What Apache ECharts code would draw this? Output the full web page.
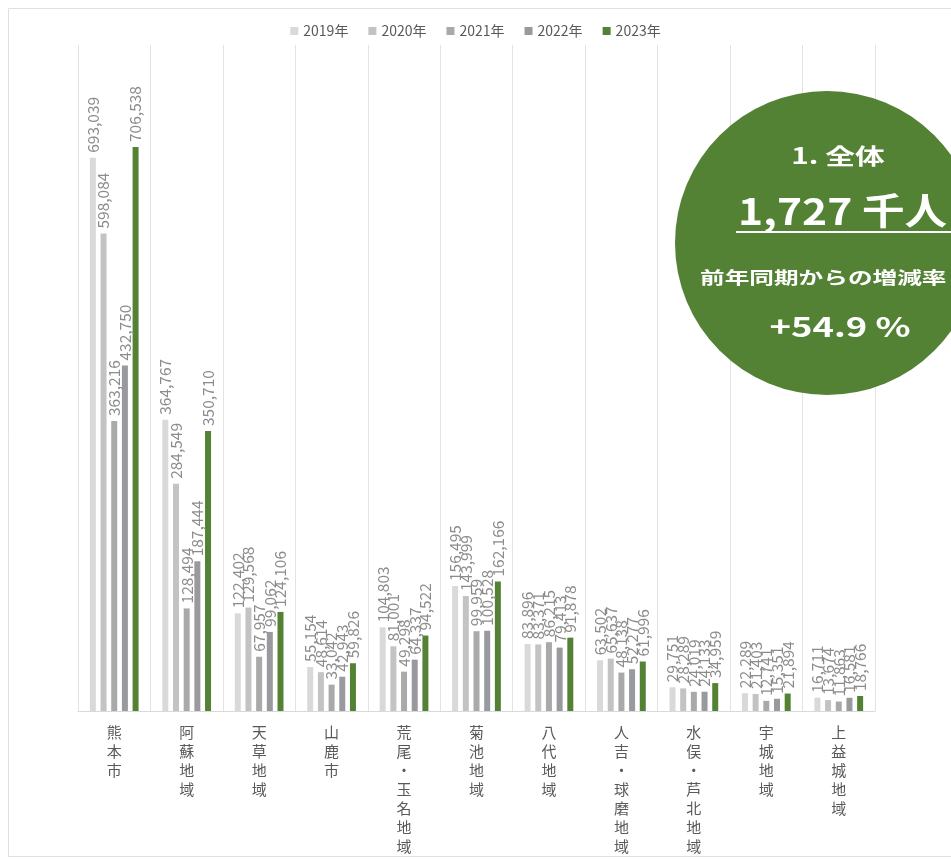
<!DOCTYPE html>
<html><head><meta charset="utf-8">
<script src="https://cdn.jsdelivr.net/npm/echarts@6/dist/echarts.min.js"></script>
<style>html,body{margin:0;padding:0;background:#fff}#c{width:951px;height:859px}</style>
</head><body><div id="c"></div>
<script>
const categories = ['熊本市','阿蘇地域','天草地域','山鹿市','荒尾・玉名地域','菊池地域','八代地域','人吉・球磨地域','水俣・芦北地域','宇城地域','上益城地域'];
const years = ['2019年','2020年','2021年','2022年','2023年'];
const v2019 = [693039,364767,122402,55154,104803,156495,83896,63502,29751,22289,16711];
const v2020 = [598084,284549,129568,48614,81001,143999,83371,65637,28289,21403,13674];
const v2021 = [363216,128494,67957,33042,49298,99959,86215,48138,24019,12741,11863];
const v2022 = [432750,187444,99062,42943,64337,100528,79413,52277,24133,15351,16581];
const v2023 = [706538,350710,124106,59826,94522,162166,91878,61996,34959,21894,18766];
const seriesData = [v2019,v2020,v2021,v2022,v2023];
const colors = ['#d9d9d9','#c3c3c3','#a9a9a9','#999aa0','#548235'];
const titleText = '1. 全体';
const totalText = '1,727 千人';
const rateLabel = '前年同期からの増減率';
const rateText = '+54.9 %';

const chart = echarts.init(document.getElementById('c'));
const font = '"Noto Sans CJK JP", "Noto Sans", sans-serif';
chart.setOption({
  animation:false,
  textStyle:{fontFamily:font},
  color:colors,
  legend:{top:19,left:'center',itemWidth:8,itemHeight:8,itemGap:20,icon:'rect',
    textStyle:{color:'#595959',fontSize:14,fontFamily:font},data:years},
  grid:{left:78,right:76,top:45,bottom:148,outerBoundsMode:'none',containLabel:false},
  xAxis:{type:'category',data:categories,
    axisLine:{lineStyle:{color:'#d9d9d9'}},axisTick:{show:false},
    splitLine:{show:true,lineStyle:{color:'#e3e3e3'}},
    axisLabel:{interval:0,color:'#595959',fontSize:15,lineHeight:19,margin:12,verticalAlign:'top',
      formatter:v=>v.split('').join('\n')}},
  yAxis:{type:'value',min:0,max:834300,show:false,splitLine:{show:false}},
  series:seriesData.map((d,i)=>({
    name:years[i],type:'bar',data:d,barWidth:6,barGap:'78%',
    itemStyle:{color:colors[i]},
    label:{show:true,position:'top',rotate:90,align:'left',verticalAlign:'middle',distance:5,
      color:'#8c8c8c',fontSize:15.5,fontFamily:font,
      formatter:p=>p.value.toLocaleString('en-US')}
  })),
  graphic:[
    {type:'rect',shape:{x:8.5,y:8.5,width:960,height:848},style:{fill:'none',stroke:'#e0e0e0',lineWidth:1},z:-1},
    {type:'circle',shape:{cx:827,cy:243,r:152},style:{fill:'#548235'},z:10},
    {type:'text',x:838,y:156,scaleX:1.35,style:{text:titleText,fill:'#fff',font:'bold 22px '+font,align:'center',verticalAlign:'middle'},z:11},
    {type:'text',x:738,y:211,scaleX:1.15,style:{text:totalText,fill:'#fff',font:'bold 37px '+font,align:'left',verticalAlign:'middle'},z:11},
    {type:'line',shape:{x1:736,y1:232,x2:951,y2:232},style:{stroke:'#fff',lineWidth:2},z:11},
    {type:'text',x:700,y:278,scaleX:1.45,style:{text:rateLabel,fill:'#fff',font:'bold 17px '+font,align:'left',verticalAlign:'middle'},z:11},
    {type:'text',x:840,y:327,scaleX:1.35,style:{text:rateText,fill:'#fff',font:'bold 27px '+font,align:'center',verticalAlign:'middle'},z:11}
  ]
});
</script></body></html>
